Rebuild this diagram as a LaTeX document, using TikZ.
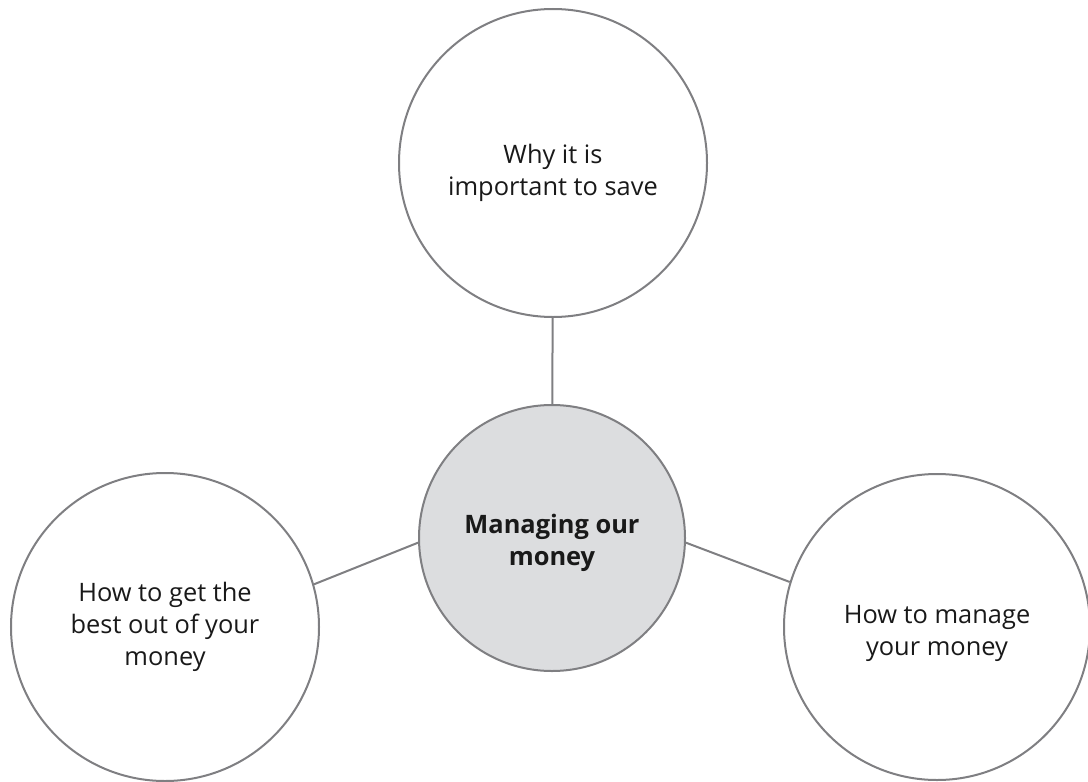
\documentclass[tikz,border=0pt]{standalone}
\usepackage{fontspec}
\setmainfont{Open Sans}
\usepackage{tikz}
\usetikzlibrary{positioning}
\definecolor{ringgray}{HTML}{7F7F82}
\definecolor{hubfill}{HTML}{DCDDDF}

\begin{document}
\begin{tikzpicture}[
  x=1bp, y=-1bp,
  topic/.style={circle, draw=ringgray, line width=2bp, minimum size=308bp, inner sep=0pt,
    align=center, font=\fontsize{25.5}{32.5}\selectfont, text=black!90},
  hub/.style={topic, fill=hubfill, minimum size=266bp, font=\fontsize{25.5}{32.5}\selectfont\bfseries},
  link/.style={draw=ringgray, line width=2bp}
]
\useasboundingbox (0,0) rectangle (1088,782);

\node[hub, text height=61bp] (money) at (552,538) {Managing our\\money};
\node[topic, text height=72bp] (save) at (553,163) {Why it is\\important to save};
\node[topic] (best) at (165,627) {How to get the\\best out of your\\money};
\node[topic, minimum size=306bp, text height=64bp] (manage) at (937,627) {How to manage\\your money};

\draw[link] (save) -- (money);
\draw[link] (best.16) -- (money.182);
\draw[link] (money.-2) -- (manage.163);

\end{tikzpicture}
\end{document}
